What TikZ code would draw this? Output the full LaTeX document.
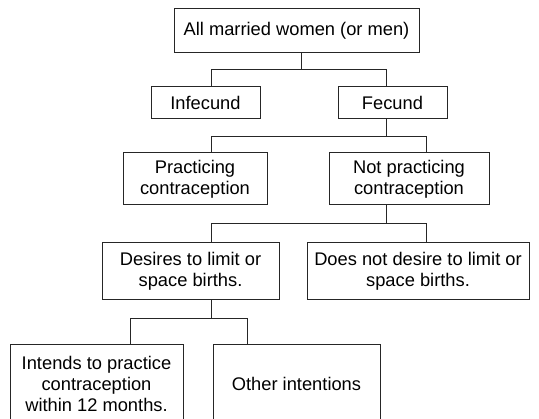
\documentclass[tikz,border=0pt]{standalone}
\usepackage{fontspec}
\setmainfont{Liberation Sans}
\begin{document}
\begin{tikzpicture}[x=1pt,y=-1pt,
  box/.style={draw=black!85, line width=1pt, align=center, inner sep=0pt,
    font=\fontsize{18.3}{21}\selectfont, text=black},
  link/.style={draw=black!85, line width=1pt}]
\useasboundingbox (0,0) rectangle (539,419);
\clip (0,0) rectangle (539,419);
% nodes
\node[box, minimum width=245pt, minimum height=44pt] (top) at (296.5,31) {All married women (or men)};
\node[box, minimum width=109pt, minimum height=32pt] (infec) at (205.5,103) {Infecund};
\node[box, minimum width=109pt, minimum height=32pt] (fec) at (392.5,103) {Fecund};
\node[box, minimum width=144pt, minimum height=52pt] (prac) at (195,179) {Practicing\\contraception};
\node[box, minimum width=160pt, minimum height=52pt] (notprac) at (409,179) {Not practicing\\contraception};
\node[box, minimum width=177pt, minimum height=57pt] (des) at (190.5,271.5) {Desires to limit or\\space births.};
\node[box, minimum width=222pt, minimum height=57pt] (nodes) at (418,271.5) {Does not desire to limit or\\space births.};
\node[box, minimum width=173pt, minimum height=78pt] (intends) at (96.5,384) {Intends to practice\\contraception\\within 12 months.};
\node[box, minimum width=167pt, minimum height=78pt] (other) at (296.5,384) {Other intentions};
% junction coordinates
\coordinate (j1) at (301,70);
\coordinate (j2) at (386,137);
\coordinate (j3) at (386,224);
\coordinate (j4) at (211,319);
% connectors
\draw[link] (top.south -| j1) -- (j1);
\draw[link] ([xshift=5.5pt]infec.north) |- ([xshift=-6.5pt]fec.north |- j1) -- ([xshift=-6.5pt]fec.north);
\draw[link] ([xshift=-6.5pt]fec.south) -- (j2);
\draw[link] ([xshift=16pt]prac.north) |- ([xshift=17pt]notprac.north |- j2) -- ([xshift=17pt]notprac.north);
\draw[link] ([xshift=-23pt]notprac.south) -- (j3);
\draw[link] ([xshift=20.5pt]des.north) |- ([xshift=8pt]nodes.north |- j3) -- ([xshift=8pt]nodes.north);
\draw[link] ([xshift=20.5pt]des.south) -- (j4);
\draw[link] ([xshift=33.5pt]intends.north) |- ([xshift=-49.5pt]other.north |- j4) -- ([xshift=-49.5pt]other.north);
\end{tikzpicture}
\end{document}
